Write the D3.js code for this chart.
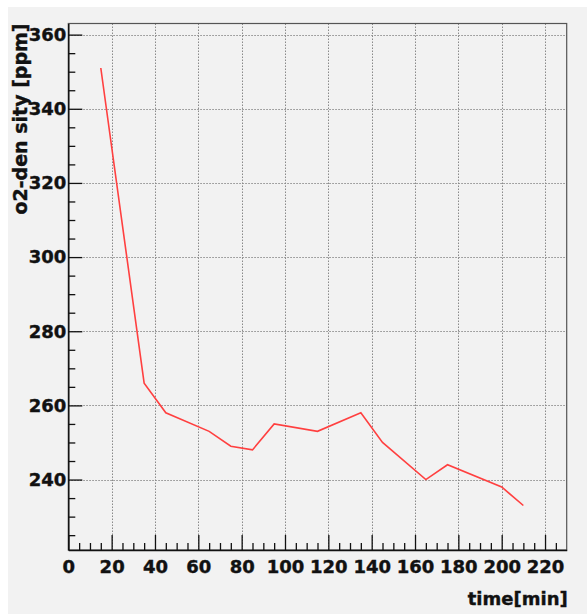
<!DOCTYPE html>
<html>
<head>
<meta charset="utf-8">
<script src="https://cdn.jsdelivr.net/npm/d3@7"></script>
<style>
  body { margin: 0; background: #fff; }
  svg { display: block; }
</style>
</head>
<body>
<div class="container"></div>
<script>
// o2 density over time
let times = [15, 35, 45, 65, 75, 85, 95, 115, 135, 145, 165, 175, 200, 210]
let density = [351, 266, 258, 253, 249, 248, 255, 253, 258, 250, 240, 244, 238, 233]
let xTicks = [0, 20, 40, 60, 80, 100, 120, 140, 160, 180, 200, 220]
let yTicks = [240, 260, 280, 300, 320, 340, 360]

let width = 587, height = 614
let plotLeft = 68.3, plotRight = 566.7, plotTop = 23.5, plotBottom = 550

let svg = d3.select('.container')
    .append('svg')
    .attr('width', width)
    .attr('height', height)

svg.append('rect')
    .attr('x', 8).attr('y', 7)
    .attr('width', width - 8).attr('height', height - 7)
    .attr('fill', '#f2f2f2')

let x = d3.scaleLinear().domain([0, 230]).range([plotLeft, plotRight])
let y = d3.scaleLinear().domain([221, 363]).range([plotBottom, plotTop])

// grid
let grid = svg.append('g')
    .attr('stroke', '#8a8a8a')
    .attr('stroke-width', 1)
    .attr('stroke-dasharray', '1.5,1.5')
grid.selectAll('.gx')
    .data(xTicks.filter(d => d > 0))
    .enter().append('line')
    .attr('x1', d => Math.round(x(d)) + 0.5)
    .attr('x2', d => Math.round(x(d)) + 0.5)
    .attr('y1', plotTop)
    .attr('y2', plotBottom)
grid.selectAll('.gy')
    .data(yTicks)
    .enter().append('line')
    .attr('x1', plotLeft)
    .attr('x2', plotRight)
    .attr('y1', d => Math.round(y(d)) + 0.5)
    .attr('y2', d => Math.round(y(d)) + 0.5)

// frame
svg.append('rect')
    .attr('x', plotLeft).attr('y', plotTop)
    .attr('width', plotRight - plotLeft).attr('height', plotBottom - plotTop)
    .attr('fill', 'none')
    .attr('stroke', '#555')
    .attr('stroke-width', 1.2)

let font = '"DejaVu Sans", sans-serif'

// minor ticks
let minorX = d3.range(5, 230, 5).filter(d => d % 20 != 0)
let minorY = d3.range(225, 363, 5).filter(d => d % 20 != 0)

svg.append('g')
    .attr('transform', `translate(0,${plotBottom})`)
    .call(d3.axisBottom(x).tickValues(minorX).tickSize(-7).tickFormat(''))
    .call(g => g.select('.domain').remove())
svg.append('g')
    .attr('transform', `translate(${plotLeft},0)`)
    .call(d3.axisLeft(y).tickValues(minorY).tickSize(-7).tickFormat(''))
    .call(g => g.select('.domain').remove())

// major axes
let xAxis = svg.append('g')
    .attr('transform', `translate(0,${plotBottom})`)
    .call(d3.axisBottom(x).tickValues(xTicks).tickSize(-15).tickPadding(10).tickSizeOuter(0))
let yAxis = svg.append('g')
    .attr('transform', `translate(${plotLeft},0)`)
    .call(d3.axisLeft(y).tickValues(yTicks).tickSize(-14).tickPadding(2).tickSizeOuter(0))

svg.selectAll('.tick line').attr('stroke', '#111').attr('stroke-width', 1.3)
svg.selectAll('.domain').attr('stroke', '#111').attr('stroke-width', 1.5)
svg.selectAll('.tick text')
    .style('font-family', font)
    .style('font-weight', 'bold')
    .style('font-size', '18px')
    .attr('fill', '#111')
    .attr('stroke', '#111')
    .attr('stroke-width', 0.4)

// data line
let line = d3.line()
    .x((d, i) => x(times[i]))
    .y(d => y(d))

svg.append('path')
    .attr('d', line(density))
    .attr('fill', 'none')
    .attr('stroke', '#ff4040')
    .attr('stroke-width', 1.6)

// titles
svg.append('text')
    .attr('x', plotRight + 1)
    .attr('y', 605)
    .attr('text-anchor', 'end')
    .style('font-family', font)
    .style('font-weight', 'bold')
    .style('font-size', '18px')
    .attr('fill', '#111')
    .attr('stroke', '#111')
    .attr('stroke-width', 0.4)
    .text('time[min]')

svg.append('text')
    .attr('transform', `translate(27,${plotTop}) rotate(-90)`)
    .attr('text-anchor', 'end')
    .style('font-family', font)
    .style('font-weight', 'bold')
    .style('font-size', '19px')
    .attr('fill', '#111')
    .attr('stroke', '#111')
    .attr('stroke-width', 0.4)
    .text('o2-den sity [ppm]')
</script>
</body>
</html>
